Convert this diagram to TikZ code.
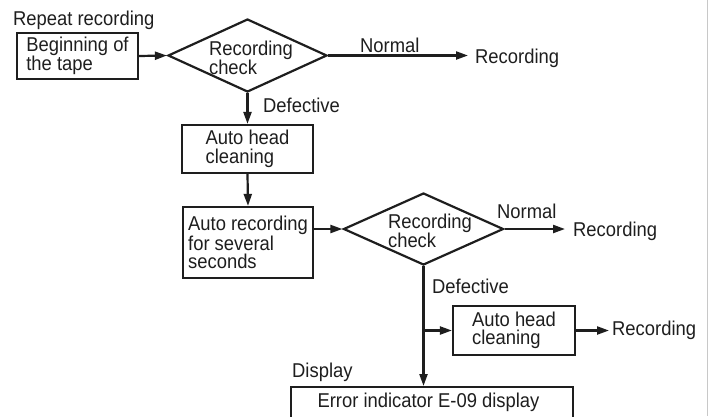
\documentclass[tikz,border=0pt]{standalone}
\usepackage{fontspec}
\setmainfont{Liberation Sans}[FakeStretch=0.92]
\usetikzlibrary{shapes.geometric,arrows.meta}
\definecolor{ink}{RGB}{30,30,30}
\definecolor{edge}{RGB}{200,200,200}
\tikzset{
  txt/.style={font=\fontsize{20}{18.5}\selectfont, text=ink, inner sep=0pt},
  box/.style={draw=ink, line width=2.2pt, inner sep=0pt, align=left,
              font=\fontsize{20}{18.5}\selectfont, text=ink},
  dia/.style={diamond, draw=ink, line width=2.2pt, inner sep=0pt},
  arr/.style={draw=ink, line width=2.2pt, -{Triangle[length=12pt,width=8pt]}},
  ln/.style={draw=ink, line width=2.2pt}
}
\begin{document}
\begin{tikzpicture}[x=1pt,y=-1pt]
\useasboundingbox (0,0) rectangle (709,416);
\clip (0,0) rectangle (709,416);
\fill[white] (0,0) rectangle (709,416);
\draw[edge, line width=1.5pt] (707.5,0) -- (707.5,416);

% top row
\node[txt, anchor=base west] (rep) at (13,25) {Repeat recording};
\node[box, minimum width=121pt, minimum height=46pt] (b1) at (77.5,56) {Beginning of\\the tape};
\node[dia, minimum width=159pt, minimum height=73pt] (d1) at (247.5,55.5) {};
\node[txt, align=left] (d1t) at (251,58) {Recording\\check};
\node[txt, anchor=base west] (n1) at (360,52) {Normal};
\node[txt, anchor=base west] (r1) at (475,63) {Recording};
\node[txt, anchor=base west] (f1) at (263,112) {Defective};

% column
\node[box, minimum width=131pt, minimum height=48pt] (b2) at (247.5,149) {Auto head\\cleaning};
\node[box, minimum width=130pt, minimum height=71pt] (b3) at (248,242.5) {Auto recording\\for several\\seconds};
\node[dia, minimum width=160pt, minimum height=72pt] (d2) at (423.5,229) {};
\node[txt, align=left] (d2t) at (430,231) {Recording\\check};
\node[txt, anchor=base west] (n2) at (497,218) {Normal};
\node[txt, anchor=base west] (r2) at (573,236) {Recording};
\node[txt, anchor=base west] (f2) at (432,293) {Defective};

% lower branch
\node[box, minimum width=122pt, minimum height=49pt] (b4) at (514,330.5) {Auto head\\cleaning};
\node[txt, anchor=base west] (r3) at (612,335) {Recording};
\node[txt, anchor=base west] (dsp) at (292,377) {Display};
\node[draw=ink, line width=2.2pt, minimum width=282pt, minimum height=50pt, anchor=north, inner sep=0pt] (err) at (432,386) {};
\node[txt, anchor=base] (errt) at (428.5,407) {Error indicator E-09 display};

% connectors
\draw[arr] (b1.east) -- (d1.west);
\draw[arr, shorten >=7pt] (d1.east) -- (d1.east -| r1.west);
\draw[arr] (d1.south) -- (b2.north);
\draw[arr] (b2.south) -- (b3.north);
\draw[arr] (b3.east |- d2.west) -- (d2.west);
\draw[arr, shorten >=8pt] (d2.east) -- (d2.east -| r2.west);
\draw[arr] (d2.south) -- (err.north -| d2.south);
\coordinate (br) at (d2.south |- b4.west);
\draw[arr] (br) -- (b4.west);
\draw[arr, shorten >=3pt] (b4.east) -- (b4.east -| r3.west);
\end{tikzpicture}
\end{document}
